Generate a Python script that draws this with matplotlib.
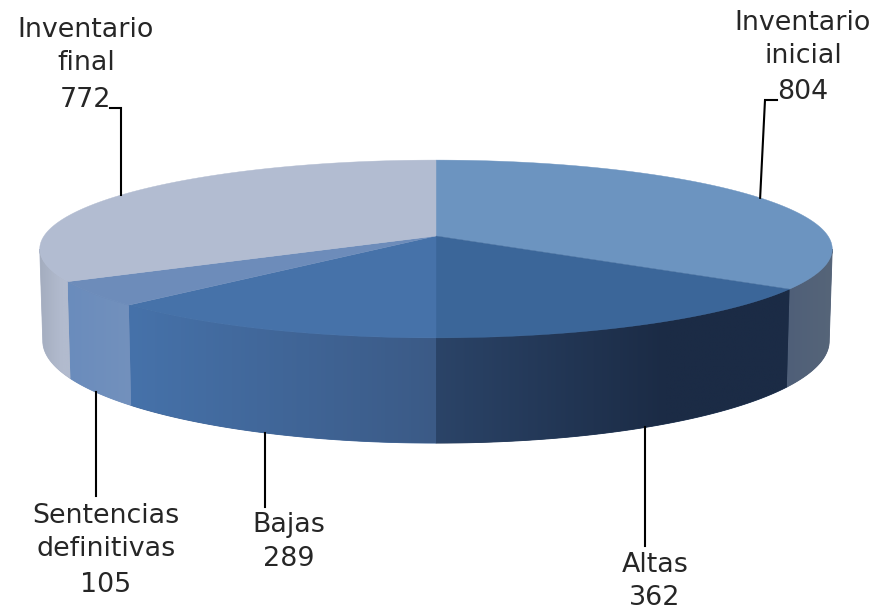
import numpy as np
import matplotlib
matplotlib.use("Agg")
import matplotlib.pyplot as plt
from matplotlib.colors import to_rgb
from matplotlib.patches import Polygon

categories = ["Inventario\ninicial", "Altas", "Bajas", "Sentencias\ndefinitivas", "Inventario\nfinal"]
values = [804, 362, 289, 105, 772]
top_colors = ["#6c94c0", "#3b6699", "#4672a9", "#6d8cba", "#b2bcd1"]
side_left = ["#4f5f78", "#2b4468", "#4672aa", "#6a8cbc", "#a4adbf"]
side_right = ["#566579", "#1b2b45", "#3b5a86", "#7391bd", "#b2bbce"]
side_reach = [1.0, 0.65, 1.0, 1.0, 0.7]

CX, CY = 436, 236
A, B, K = 392, 87, 0.146
CYB, AB, BB = 326, 389, 100


def top_rim(t):
    w = 1 + K * np.cos(t)
    return CX + A * np.sin(t) / w, CY - B * np.cos(t) / w


def bottom_rim(t):
    w = 1 + K * np.cos(t)
    return CX + AB * np.sin(t) / w, CYB - BB * np.cos(t) / w


fig = plt.figure(figsize=(8.77, 6.12), dpi=100)
ax = fig.add_axes([0, 0, 1, 1])

fracs = np.array(values) / sum(values)
edges = np.concatenate([[0], np.cumsum(fracs)]) * 2 * np.pi
t_ext = np.arccos(-K)

# sides: a horizontal colour ramp clipped to each wedge's outer wall
for i in range(len(values)):
    a0 = max(edges[i], t_ext)
    a1 = min(edges[i + 1], 2 * np.pi - t_ext)
    if a1 <= a0:
        continue
    ts = np.linspace(a0, a1, 200)
    xt, yt = top_rim(ts)
    xb, yb = bottom_rim(ts)
    px = np.r_[xt, xb[::-1]]
    py = np.r_[yt, yb[::-1]]
    xmin, xmax, ymin, ymax = px.min(), px.max(), py.min(), py.max()
    f = np.clip(np.linspace(0, 1, 256) / side_reach[i], 0, 1)[None, :, None]
    left = np.array(to_rgb(side_left[i]))[None, None, :]
    right = np.array(to_rgb(side_right[i]))[None, None, :]
    mean = tuple((left + (right - left) * 0.5).ravel())
    ax.fill(px, py, facecolor=mean, edgecolor=mean, lw=0.6, zorder=1)
    im = ax.imshow(left + (right - left) * f, extent=(xmin, xmax, ymax, ymin),
                   aspect="auto", interpolation="bilinear", zorder=2)
    poly = Polygon(np.c_[px, py], closed=True, transform=ax.transData,
                   facecolor="none", edgecolor="none")
    ax.add_patch(poly)
    im.set_clip_path(poly)

# top faces
for i in range(len(values)):
    ts = np.linspace(edges[i], edges[i + 1], 200)
    x, y = top_rim(ts)
    ax.fill(np.r_[CX, x], np.r_[CY, y], facecolor=top_colors[i],
            edgecolor=top_colors[i], lw=0.3, zorder=3)

# labels and leaders
mids = (edges[:-1] + edges[1:]) / 2
rims = [top_rim, bottom_rim, bottom_rim, bottom_rim, top_rim]
leaders = [[(765, 100), (777, 100)], [(None, 546)], [(None, 507)], [(None, 496)], [(None, 108), (110, 108)]]
label_x = [803, 655, 289, 106, 86]
label_y = [[23, 56, 92], [565, 598], [525, 559], [516, 549, 585], [30, 63, 100]]

for i, cat in enumerate(categories):
    x0, y0 = rims[i](mids[i])
    px, py = [float(x0)], [float(y0)]
    for (lx, ly) in leaders[i]:
        px.append(float(x0) if lx is None else lx)
        py.append(ly)
    ax.plot(px, py, color="black", lw=1.5, zorder=4, solid_joinstyle="miter")
    lines = cat.split("\n") + [str(values[i])]
    for s, ly in zip(lines, label_y[i]):
        ax.text(label_x[i], ly, s, ha="center", va="center", fontsize=19.4,
                family="DejaVu Sans", color="#262626", zorder=5)

ax.set_xlim(0, 877)
ax.set_ylim(612, 0)
ax.axis("off")
fig.savefig("out.png", dpi=100, facecolor="white")
